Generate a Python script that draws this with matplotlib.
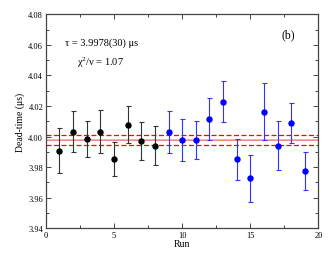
import matplotlib
matplotlib.use("Agg")
import matplotlib.pyplot as plt
from matplotlib.ticker import MultipleLocator

plt.rcParams['font.family'] = ['Liberation Serif', 'DejaVu Serif']
plt.rcParams['mathtext.fontset'] = 'custom'
plt.rcParams['mathtext.rm'] = 'Liberation Serif'
plt.rcParams['mathtext.it'] = 'Liberation Serif:italic'

runs_a = [1, 2, 3, 4, 5, 6, 7, 8]
vals_a = [3.9906, 4.0032, 3.9984, 4.0032, 3.9852, 4.0078, 3.9973, 3.9941]
errs_a = [0.0147, 0.0135, 0.0115, 0.0142, 0.0110, 0.0120, 0.0125, 0.0127]

runs_b = [9, 10, 11, 12, 13, 14, 15, 16, 17, 18, 19]
vals_b = [4.0030, 3.9978, 3.9976, 4.0115, 4.0228, 3.9852, 3.9727, 4.0163, 3.9941, 4.0091, 3.9775]
errs_b = [0.0135, 0.0137, 0.0125, 0.0135, 0.0134, 0.0135, 0.0155, 0.0185, 0.0160, 0.0130, 0.0125]

tau = 3.9978
tau_err = 0.0030

fig = plt.figure(figsize=(3.3, 2.55), dpi=100)
ax = fig.add_axes([0.139, 0.101, 0.826, 0.839])

ax.axhspan(tau - 0.0009, tau + 0.0009, color='#f8b0b0', lw=0, zorder=1)
ax.axhline(tau, color='#f08c8c', lw=0.8, zorder=1.5)
ax.axhline(tau + tau_err, color='#ff0000', lw=0.9, ls=(0, (4, 2)), zorder=1.5)
ax.axhline(tau - tau_err, color='#ff0000', lw=0.9, ls=(0, (4, 2)), zorder=1.5)

ax.errorbar(runs_a, vals_a, yerr=errs_a, fmt='o', color='black', ecolor='#333333',
            ms=3.6, elinewidth=0.8, capsize=1.8, capthick=0.8, zorder=3)
ax.errorbar(runs_b, vals_b, yerr=errs_b, fmt='o', color='#0000ff', ecolor='#3333ff',
            ms=3.6, elinewidth=0.8, capsize=1.8, capthick=0.8, zorder=3)

ax.set_xlim(0, 20)
ax.set_ylim(3.94, 4.08)
ax.xaxis.set_major_locator(MultipleLocator(5))
ax.xaxis.set_minor_locator(MultipleLocator(2.5))
ax.yaxis.set_major_locator(MultipleLocator(0.02))
ax.yaxis.set_minor_locator(MultipleLocator(0.01))
ax.yaxis.set_major_formatter(matplotlib.ticker.FormatStrFormatter('%.2f'))
ax.tick_params(which='both', direction='in', top=True, right=True, labelsize=6,
               color='#444444', pad=2)
ax.tick_params(which='major', length=3.5, width=0.7)
ax.tick_params(which='minor', length=2, width=0.7)
for s in ax.spines.values():
    s.set_color('#444444')
    s.set_linewidth(0.9)

ax.set_xlabel('Run', fontsize=7, labelpad=0)
ax.set_ylabel('Dead-time (\u03bcs)', fontsize=7, labelpad=2)

ax.text(0.204, 0.87, '\u03c4 = 3.9978(30) \u03bcs', transform=ax.transAxes,
        ha='center', va='center', fontsize=7.5)
ax.text(0.200, 0.78, '\u03c7$^2$/\u03bd = 1.07', transform=ax.transAxes,
        ha='center', va='center', fontsize=7.5)
ax.text(0.89, 0.908, '(b)', transform=ax.transAxes, ha='center', va='center',
        fontsize=8.5)

fig.savefig('out.png', dpi=100)
